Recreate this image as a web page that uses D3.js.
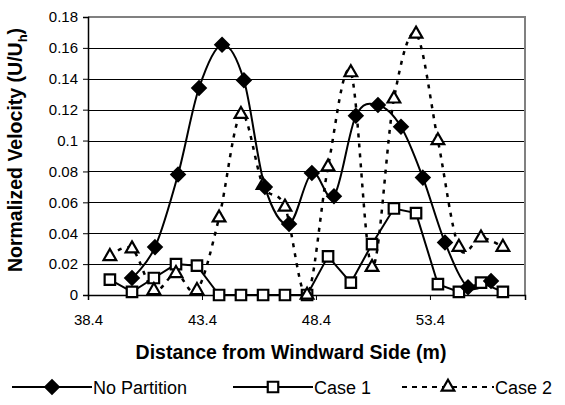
<!DOCTYPE html>
<html>
<head>
<meta charset="utf-8">
<script src="https://cdn.jsdelivr.net/npm/d3@7"></script>
<style>
  body { margin: 0; background: #fff; }
  svg { display: block; font-family: "Liberation Sans", Arial, sans-serif; }
</style>
</head>
<body>
<div id="chart"></div>
<script>
// distances (m)
var xNoPartition = [40.33, 41.34, 42.35, 43.27, 44.28, 45.24, 46.16, 47.22, 48.22, 49.19, 50.15, 51.12, 52.13, 53.09, 54.06, 55.07, 56.08];
var yNoPartition = [0.011, 0.031, 0.078, 0.134, 0.162, 0.139, 0.070, 0.046, 0.079, 0.064, 0.116, 0.123, 0.109, 0.076, 0.034, 0.005, 0.009];

var xCases = [39.36, 40.33, 41.29, 42.26, 43.18, 44.15, 45.11, 46.08, 47.04, 48.01, 48.93, 49.93, 50.86, 51.82, 52.79, 53.75, 54.67, 55.64, 56.60];
var yCase1 = [0.010, 0.002, 0.011, 0.020, 0.019, 0, 0, 0, 0, 0, 0.025, 0.008, 0.033, 0.056, 0.053, 0.007, 0.002, 0.008, 0.002];
var yCase2 = [0.025, 0.030, 0.003, 0.014, 0.003, 0.050, 0.117, 0.071, 0.057, 0.000, 0.083, 0.144, 0.018, 0.127, 0.169, 0.100, 0.031, 0.037, 0.031];

var xTicks = [38.4, 43.4, 48.4, 53.4];
var xTickLabels = ["38.4", "43.4", "48.4", "53.4"];
var yTicks = [0, 0.02, 0.04, 0.06, 0.08, 0.1, 0.12, 0.14, 0.16, 0.18];
var yTickLabels = ["0", "0.02", "0.04", "0.06", "0.08", "0.1", "0.12", "0.14", "0.16", "0.18"];
var seriesNames = ["No Partition", "Case 1", "Case 2"];

(function() {
    var width = 565, height = 405;
    var plotL = 88, plotR = 525, plotT = 17, plotB = 295;

    var svg = d3.select("#chart").append("svg")
        .attr("width", width)
        .attr("height", height);

    svg.append("rect").attr("width", width).attr("height", height).attr("fill", "#fff");

    var x = d3.scaleLinear().domain([38.4, 57.57]).range([plotL, plotR]);
    var y = d3.scaleLinear().domain([0, 0.18]).range([plotB, plotT]);

    // gridlines
    svg.append("g")
        .selectAll("line")
        .data(yTicks.slice(1, -1))
        .enter().append("line")
        .attr("x1", plotL).attr("x2", plotR)
        .attr("y1", function(d) { return Math.round(y(d)) + 0.5; })
        .attr("y2", function(d) { return Math.round(y(d)) + 0.5; })
        .attr("stroke", "#000")
        .attr("stroke-width", 1);

    // plot frame, top and right in grey
    svg.append("path")
        .attr("d", "M" + plotL + "," + plotT + "H" + plotR + "V" + plotB)
        .attr("fill", "none")
        .attr("stroke", "#808080")
        .attr("stroke-width", 2);

    var yAxis = svg.append("g")
        .attr("transform", "translate(" + plotL + ",0)")
        .call(d3.axisLeft(y).tickValues(yTicks).tickSize(5).tickPadding(5)
            .tickFormat(function(d, i) { return yTickLabels[i]; }));

    var xAxis = svg.append("g")
        .attr("transform", "translate(0," + plotB + ")")
        .call(d3.axisBottom(x).tickValues(xTicks).tickSize(5).tickPadding(14)
            .tickFormat(function(d, i) { return xTickLabels[i]; }));

    [xAxis, yAxis].forEach(function(g) {
        g.select(".domain").attr("stroke", "#000").attr("stroke-width", 1.5);
        g.selectAll(".tick line").attr("stroke", "#000");
        g.selectAll(".tick text").attr("fill", "#000").style("font-size", "15px")
            .style("font-family", "'Liberation Sans', Arial, sans-serif");
    });

    // axis titles
    svg.append("text")
        .attr("x", 291)
        .attr("y", 359)
        .attr("text-anchor", "middle")
        .style("font-size", "19.5px")
        .style("font-weight", "bold")
        .text("Distance from Windward Side (m)");

    var yTitle = svg.append("text")
        .attr("transform", "translate(22,150) rotate(-90)")
        .attr("text-anchor", "middle")
        .style("font-size", "19.5px")
        .style("font-weight", "bold");
    yTitle.append("tspan").text("Normalized Velocity (U/U");
    yTitle.append("tspan").attr("dy", 5).style("font-size", "13px").text("h");
    yTitle.append("tspan").attr("dy", -5).text(")");

    // series
    svg.append("clipPath").attr("id", "plot-clip")
        .append("rect").attr("x", plotL).attr("y", plotT)
        .attr("width", plotR - plotL).attr("height", plotB - plotT);

    var plot = svg.append("g").attr("clip-path", "url(#plot-clip)");

    var noPart = xNoPartition.map(function(d, i) { return [d, yNoPartition[i]]; });
    var case1 = xCases.map(function(d, i) { return [d, yCase1[i]]; });
    var case2 = xCases.map(function(d, i) { return [d, yCase2[i]]; });

    var smooth = d3.line().x(function(d) { return x(d[0]); }).y(function(d) { return y(d[1]); })
        .curve(d3.curveCardinal.tension(0));
    var straight = d3.line().x(function(d) { return x(d[0]); }).y(function(d) { return y(d[1]); });

    plot.append("path").attr("d", smooth(case2))
        .attr("fill", "none").attr("stroke", "#000").attr("stroke-width", 2.5)
        .attr("stroke-dasharray", "4,6");
    plot.append("path").attr("d", straight(case1))
        .attr("fill", "none").attr("stroke", "#000").attr("stroke-width", 2);
    plot.append("path").attr("d", smooth(noPart))
        .attr("fill", "none").attr("stroke", "#000").attr("stroke-width", 2);

    var diamond = d3.symbol().type(d3.symbolDiamond2).size(115);
    var square = d3.symbol().type(d3.symbolSquare2).size(140);
    var triangle = d3.symbol().type(d3.symbolTriangle2).size(115);

    function markers(data, sym, fill) {
        svg.append("g").selectAll("path")
            .data(data)
            .enter().append("path")
            .attr("transform", function(d) { return "translate(" + x(d[0]) + "," + y(d[1]) + ")"; })
            .attr("d", sym)
            .attr("fill", fill)
            .attr("stroke", "#000")
            .attr("stroke-width", 2.2);
    }
    markers(case1, square, "#fff");
    markers(case2, triangle, "#fff");
    markers(noPart, diamond, "#000");

    // legend
    var legendItems = [
        { name: seriesNames[0], x0: 12, len: 80, sym: diamond, fill: "#000", dash: null },
        { name: seriesNames[1], x0: 233, len: 80, sym: square, fill: "#fff", dash: null },
        { name: seriesNames[2], x0: 402, len: 92, sym: triangle, fill: "#fff", dash: "5,5" }
    ];
    var ly = 387;
    legendItems.forEach(function(item) {
        var g = svg.append("g").attr("transform", "translate(" + item.x0 + "," + ly + ")");
        g.append("line").attr("x1", 0).attr("x2", item.len).attr("y1", 0).attr("y2", 0)
            .attr("stroke", "#000").attr("stroke-width", 2.2)
            .attr("stroke-dasharray", item.dash);
        g.append("path").attr("transform", "translate(" + (item.len / 2) + ",0)").attr("d", item.sym)
            .attr("fill", item.fill).attr("stroke", "#000").attr("stroke-width", 2.2);
        g.append("text").attr("x", item.len + 1).attr("y", 6.5)
            .style("font-size", "18px")
            .text(item.name);
    });
})();
</script>
</body>
</html>
